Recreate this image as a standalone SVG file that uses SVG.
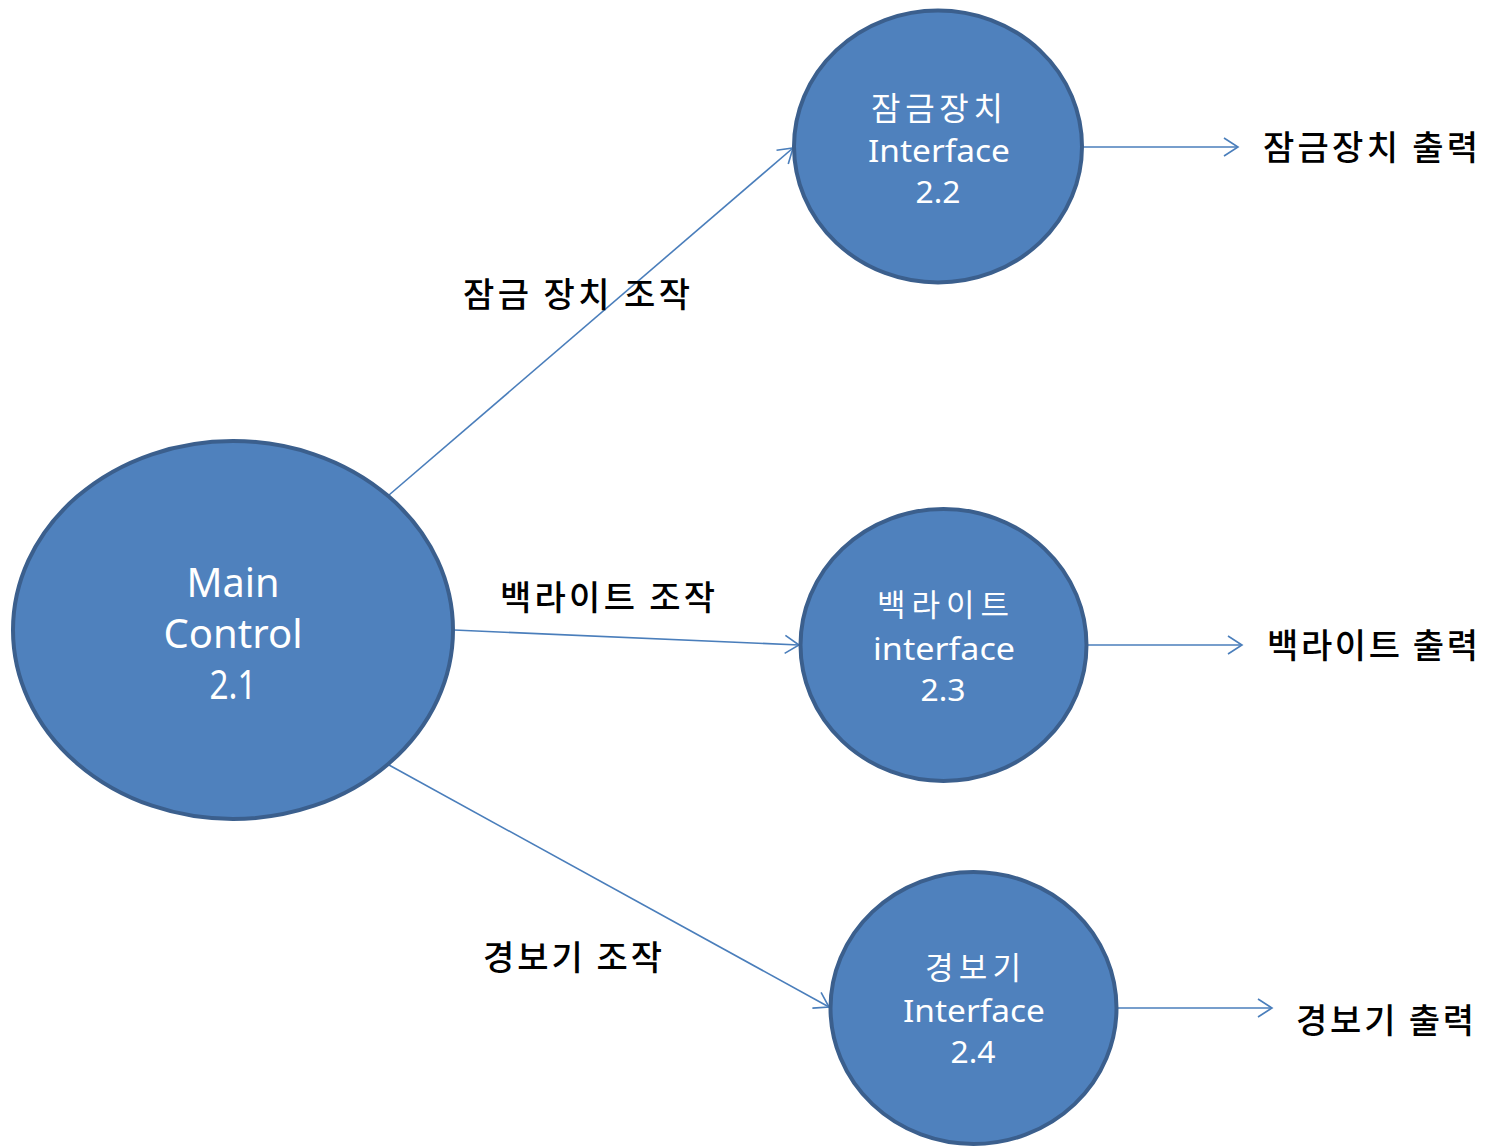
<svg xmlns="http://www.w3.org/2000/svg" width="1487" height="1146" viewBox="0 0 1487 1146">
<style>
.node{fill:#4f81bd;stroke:#3b5f8d;stroke-width:4}
.nt{fill:#ffffff;font-family:"Noto Sans","Noto Sans CJK KR",sans-serif;text-anchor:middle}
.kt{fill:#ffffff;font-family:"Noto Sans CJK KR",sans-serif;text-anchor:middle}
.lbl{fill:#000000;font-family:"Noto Sans CJK KR",sans-serif;font-size:34px;font-weight:500}
.edge{stroke:#4a7ebb;stroke-width:1.6;fill:none}
</style>
<defs>
<marker id="arr" markerWidth="20" markerHeight="20" refX="17" refY="10" orient="auto" markerUnits="userSpaceOnUse">
<path d="M3,1 L17,10 L3,19" fill="none" stroke="#4a7ebb" stroke-width="1.6"/>
</marker>
</defs>
<rect width="1487" height="1146" fill="#ffffff"/>
<g id="connectors">
<line class="edge" x1="389" y1="495" x2="793" y2="148" marker-end="url(#arr)"/>
<line class="edge" x1="454" y1="630" x2="799" y2="645" marker-end="url(#arr)"/>
<line class="edge" x1="389" y1="765" x2="829" y2="1007" marker-end="url(#arr)"/>
<line class="edge" x1="1083" y1="147" x2="1238" y2="147" marker-end="url(#arr)"/>
<line class="edge" x1="1088" y1="645" x2="1242" y2="645" marker-end="url(#arr)"/>
<line class="edge" x1="1118" y1="1008" x2="1272" y2="1008" marker-end="url(#arr)"/>
</g>
<g id="main-control">
<ellipse class="node" cx="233" cy="630" rx="220" ry="189"/>
<text class="nt" x="233" y="597" font-size="40" textLength="93" lengthAdjust="spacingAndGlyphs">Main</text>
<text class="nt" x="233" y="648" font-size="40" textLength="139" lengthAdjust="spacingAndGlyphs">Control</text>
<text class="nt" x="233" y="699" font-size="40" textLength="47" lengthAdjust="spacingAndGlyphs">2.1</text>
</g>
<g id="lock-interface">
<ellipse class="node" cx="938" cy="146.5" rx="144" ry="136"/>
<text class="kt" x="937" y="120" font-size="32" textLength="132" lengthAdjust="spacing">잠금장치</text>
<text class="nt" x="939" y="162" font-size="30" textLength="142" lengthAdjust="spacingAndGlyphs">Interface</text>
<text class="nt" x="938" y="203" font-size="30" textLength="45" lengthAdjust="spacingAndGlyphs">2.2</text>
</g>
<g id="backlight-interface">
<ellipse class="node" cx="943.5" cy="645" rx="143" ry="136"/>
<text class="kt" x="943" y="616" font-size="31" textLength="132" lengthAdjust="spacing">백라이트</text>
<text class="nt" x="944" y="660" font-size="30" textLength="142" lengthAdjust="spacingAndGlyphs">interface</text>
<text class="nt" x="943" y="701" font-size="30" textLength="45" lengthAdjust="spacingAndGlyphs">2.3</text>
</g>
<g id="alarm-interface">
<ellipse class="node" cx="973.5" cy="1008" rx="143" ry="136"/>
<text class="kt" x="973" y="979" font-size="31" textLength="96" lengthAdjust="spacing">경보기</text>
<text class="nt" x="974" y="1022" font-size="30" textLength="142" lengthAdjust="spacingAndGlyphs">Interface</text>
<text class="nt" x="973" y="1063" font-size="30" textLength="45" lengthAdjust="spacingAndGlyphs">2.4</text>
</g>
<g id="labels">
<text class="lbl" x="463" y="307" textLength="227" lengthAdjust="spacing">잠금 장치 조작</text>
<text class="lbl" x="500" y="610" textLength="215" lengthAdjust="spacing">백라이트 조작</text>
<text class="lbl" x="483" y="970" textLength="179" lengthAdjust="spacing">경보기 조작</text>
<text class="lbl" x="1263" y="160" textLength="215" lengthAdjust="spacing">잠금장치 출력</text>
<text class="lbl" x="1267" y="658" textLength="211" lengthAdjust="spacing">백라이트 출력</text>
<text class="lbl" x="1296" y="1033" textLength="178" lengthAdjust="spacing">경보기 출력</text>
</g>
</svg>
